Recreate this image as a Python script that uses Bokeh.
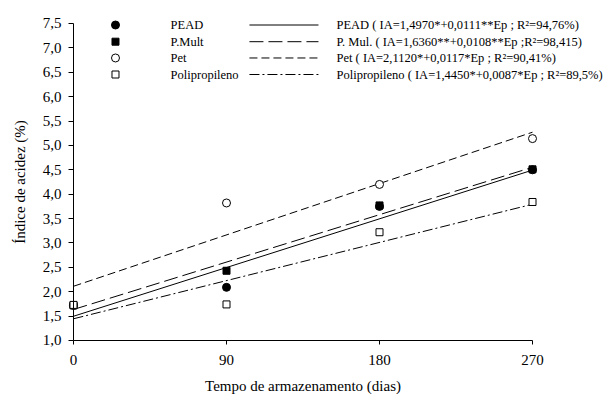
from bokeh.plotting import figure
from bokeh.models import Range1d, FixedTicker, CustomJSTickFormatter, Label
from bokeh.embed import file_html
from bokeh.resources import INLINE

# ---- data ----
days = [0, 90, 180, 270]
pead = [1.72, 2.09, 3.75, 4.50]
pmult = [1.72, 2.43, 3.77, 4.51]
pet = [1.72, 3.82, 4.20, 5.14]
polip = [1.73, 1.74, 3.22, 3.84]

series_names = ["PEAD", "P.Mult", "Pet", "Polipropileno"]
intercepts = [1.4970, 1.6360, 2.1120, 1.4450]
slopes = [0.0111, 0.0108, 0.0117, 0.0087]
eq_labels = [
    "PEAD ( IA=1,4970*+0,0111**Ep ; R²=94,76%)",
    "P. Mul.  ( IA=1,6360**+0,0108**Ep ;R²=98,415)",
    "Pet  ( IA=2,1120*+0,0117*Ep ; R²=90,41%)",
    "Polipropileno  ( IA=1,4450*+0,0087*Ep ; R²=89,5%)",
]
x_ticks = [0, 90, 180, 270]
y_ticks = [1.0, 1.5, 2.0, 2.5, 3.0, 3.5, 4.0, 4.5, 5.0, 5.5, 6.0, 6.5, 7.0, 7.5]

FONT = "Liberation Serif"

# ---- styles ----
markers = ["circle", "square", "circle", "square"]
fills = ["black", "black", "white", "white"]
msizes = [8, 7, 8, 7]
dashes = ["solid", "14 5", "8 4", "10 3 2 3"]
values = [pead, pmult, pet, polip]

p = figure(width=610, height=394, output_backend="svg", toolbar_location=None,
           x_range=Range1d(-42.94, 315.88), y_range=Range1d(-0.1073, 7.9716),
           min_border_left=0, min_border_right=0, min_border_top=0,
           min_border_bottom=0)
p.xgrid.visible = False
p.ygrid.visible = False
p.outline_line_color = None
p.background_fill_color = "white"
p.border_fill_color = "white"

# regression lines
for b, m, d in zip(intercepts, slopes, dashes):
    xs = [days[0], days[-1]]
    p.line(xs, [b + m * x for x in xs], line_color="black", line_width=1, line_dash=d)

# observed points
for vals, mk, fc, sz in zip(values, markers, fills, msizes):
    p.scatter(days, vals, marker=mk, size=sz, fill_color=fc, line_color="black", line_width=1)

# legend (manual)
rows = [7.469, 7.127, 6.793, 6.454]
for i in range(4):
    p.scatter([24.7], [rows[i]], marker=markers[i], size=msizes[i], fill_color=fills[i],
              line_color="black", line_width=1)
    p.add_layout(Label(x=57.1, y=rows[i], text=series_names[i], text_font=FONT,
                       text_font_size="12.5px", text_baseline="middle", text_color="black"))
    p.line([103.5, 144.1], [rows[i], rows[i]], line_color="black", line_width=1, line_dash=dashes[i])
    p.add_layout(Label(x=154.7, y=rows[i], text=eq_labels[i], text_font=FONT,
                       text_font_size="12.5px", text_baseline="middle", text_color="black"))

# axes
xa = p.xaxis[0]
xa.ticker = FixedTicker(ticks=x_ticks)
xa.bounds = (0, 270)
xa.fixed_location = 1.0
ya = p.yaxis[0]
ya.ticker = FixedTicker(ticks=y_ticks)
ya.bounds = (1.0, 7.5)
ya.fixed_location = 0
ya.formatter = CustomJSTickFormatter(code="return tick.toFixed(1).replace('.', ',');")

for ax in (xa, ya):
    ax.minor_tick_line_color = None
    ax.major_tick_in = 0
    ax.axis_line_color = "black"
    ax.major_tick_line_color = "black"
    ax.major_label_text_font = FONT
    ax.major_label_text_font_size = "15px"
    ax.major_label_text_color = "black"
    ax.axis_label_text_font = FONT
    ax.axis_label_text_font_size = "15px"
    ax.axis_label_text_font_style = "normal"
    ax.axis_label_text_color = "black"

xa.major_tick_out = 4
xa.major_label_standoff = 11
xa.axis_label = "Tempo de armazenamento (dias)"
xa.axis_label_standoff = 9
ya.major_tick_out = 5
ya.major_label_standoff = 7
ya.axis_label = "Índice de acidez (%)"
ya.axis_label_standoff = 12

open("out.html", "w").write(file_html(p, INLINE))
